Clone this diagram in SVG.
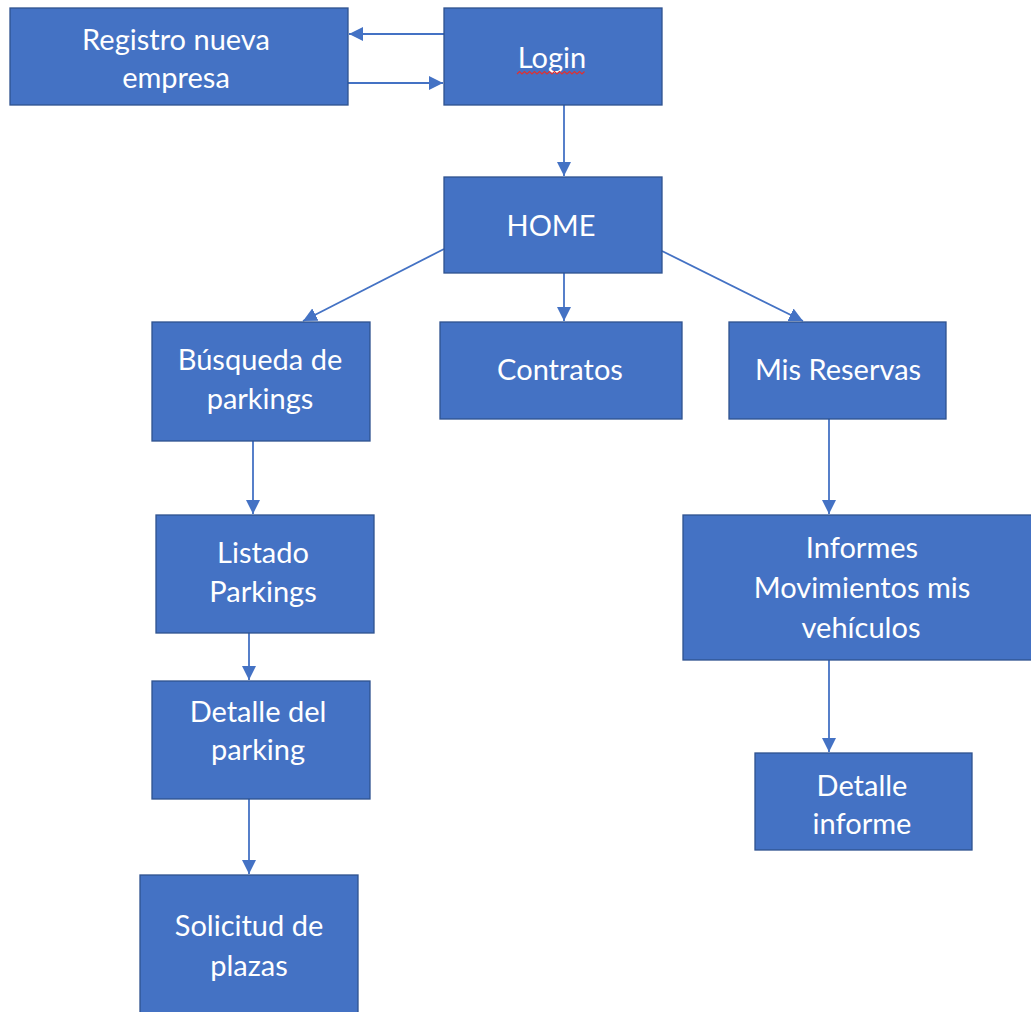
<svg xmlns="http://www.w3.org/2000/svg" width="1031" height="1012" viewBox="0 0 1031 1012">
<style>
.box{fill:#4472C4;stroke:#2F528F;stroke-width:1.3}
.t{font-family:Lato,"Open Sans",sans-serif;font-size:29px;fill:#ffffff;text-anchor:middle}
.c{stroke:#4472C4;stroke-width:1.8;fill:none;marker-end:url(#ah)}
</style>
<defs>
<marker id="ah" markerUnits="userSpaceOnUse" markerWidth="15" markerHeight="14" refX="14" refY="7" orient="auto">
<path d="M0,0 L14,7 L0,14 Z" fill="#4472C4"/>
</marker>
</defs>
<rect width="1031" height="1012" fill="#ffffff"/>
<g id="connectors">
<line class="c" x1="444" y1="34" x2="349" y2="34"/>
<line class="c" x1="348" y1="83" x2="443" y2="83"/>
<line class="c" x1="564" y1="105" x2="564" y2="176"/>
<line class="c" x1="444" y1="249" x2="303" y2="321"/>
<line class="c" x1="564" y1="273" x2="564" y2="321"/>
<line class="c" x1="662" y1="251" x2="803" y2="321"/>
<line class="c" x1="253" y1="441" x2="253" y2="514"/>
<line class="c" x1="249" y1="633" x2="249" y2="680"/>
<line class="c" x1="249" y1="799" x2="249" y2="874"/>
<line class="c" x1="829" y1="419" x2="829" y2="514"/>
<line class="c" x1="829" y1="660" x2="829" y2="752"/>
</g>
<g id="registro"><rect class="box" x="10" y="8" width="338" height="97"/><text class="t" x="176" y="50">Registro nueva</text><text class="t" x="176" y="88">empresa</text></g>
<g id="login"><rect class="box" x="444" y="8" width="218" height="97"/><text class="t" x="552" y="68">Login</text><path d="M517,74 l2.5,-2.5 l2.5,2.5 l2.5,-2.5 l2.5,2.5 l2.5,-2.5 l2.5,2.5 l2.5,-2.5 l2.5,2.5 l2.5,-2.5 l2.5,2.5 l2.5,-2.5 l2.5,2.5 l2.5,-2.5 l2.5,2.5 l2.5,-2.5 l2.5,2.5 l2.5,-2.5 l2.5,2.5 l2.5,-2.5 l2.5,2.5 l2.5,-2.5 l2.5,2.5 l2.5,-2.5 l2.5,2.5 l2.5,-2.5 l2.5,2.5 l2.5,-2.5" fill="none" stroke="#e03030" stroke-width="1.2"/></g>
<g id="home"><rect class="box" x="444" y="177" width="218" height="96"/><text class="t" x="551" y="236">HOME</text></g>
<g id="busqueda"><rect class="box" x="152" y="322" width="218" height="119"/><text class="t" x="260" y="370">Búsqueda de</text><text class="t" x="260" y="409">parkings</text></g>
<g id="contratos"><rect class="box" x="440" y="322" width="242" height="97"/><text class="t" x="560" y="380">Contratos</text></g>
<g id="misreservas"><rect class="box" x="729" y="322" width="217" height="97"/><text class="t" x="838" y="380">Mis Reservas</text></g>
<g id="listado"><rect class="box" x="156" y="515" width="218" height="118"/><text class="t" x="263" y="563">Listado</text><text class="t" x="263" y="602">Parkings</text></g>
<g id="detalleparking"><rect class="box" x="152" y="681" width="218" height="118"/><text class="t" x="258" y="722">Detalle del</text><text class="t" x="258" y="760">parking</text></g>
<g id="solicitud"><rect class="box" x="140" y="875" width="218" height="140"/><text class="t" x="249" y="936">Solicitud de</text><text class="t" x="249" y="976">plazas</text></g>
<g id="informes"><rect class="box" x="683" y="515" width="352" height="145"/><text class="t" x="862" y="558">Informes</text><text class="t" x="862" y="598">Movimientos mis</text><text class="t" x="861" y="638">vehículos</text></g>
<g id="detalleinforme"><rect class="box" x="755" y="753" width="217" height="97"/><text class="t" x="862" y="796">Detalle</text><text class="t" x="862" y="834">informe</text></g>
</svg>
